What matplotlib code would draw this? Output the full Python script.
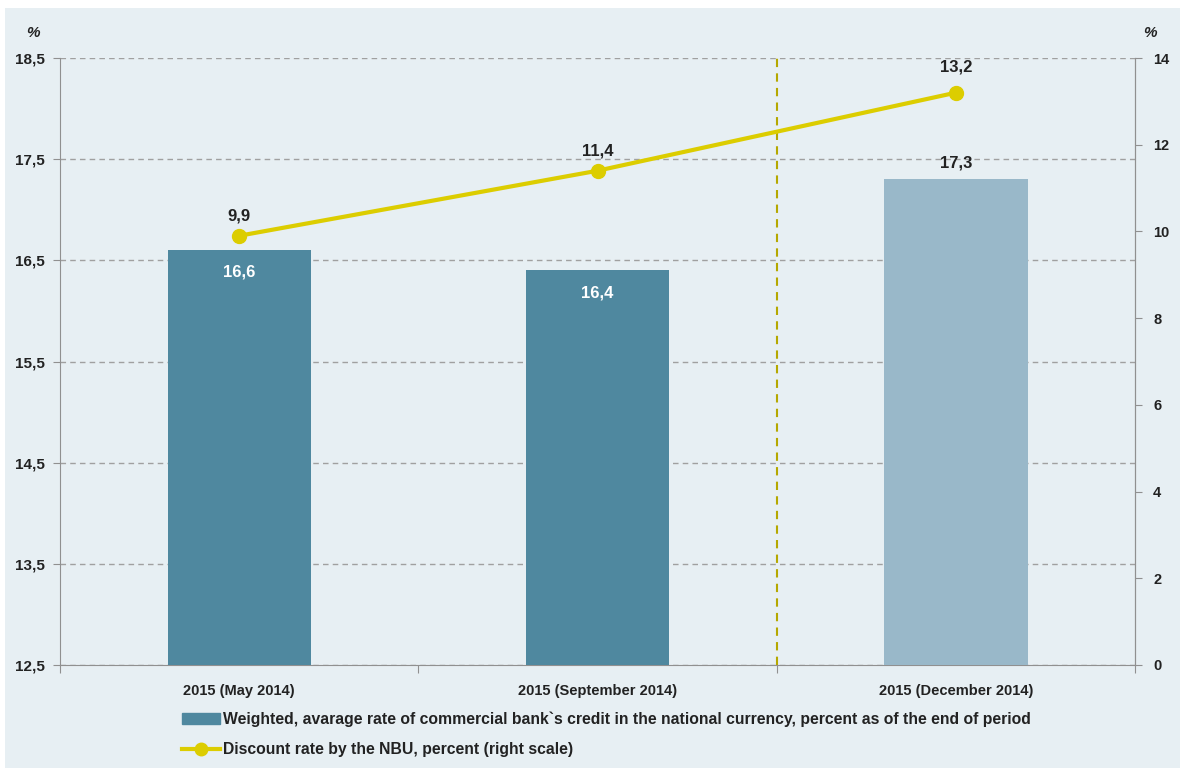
import matplotlib.pyplot as plt
from matplotlib.patches import Rectangle
from matplotlib.lines import Line2D

plt.rcParams['font.family'] = ['Liberation Sans Narrow', 'Liberation Sans', 'DejaVu Sans']
plt.rcParams['font.weight'] = 'bold'

categories = ['2015 (May 2014)', '2015 (September 2014)', '2015 (December 2014)']
credit_rate = [16.6, 16.4, 17.3]
discount_rate = [9.9, 11.4, 13.2]
left_ticks = [12.5, 13.5, 14.5, 15.5, 16.5, 17.5, 18.5]
right_ticks = [0, 2, 4, 6, 8, 10, 12, 14]

bg = '#e7eff3'
bar_dark = '#4f889f'
bar_light = '#99b8c9'
line_col = '#dccd00'
txt = '#222222'

W, H = 1180, 771
fig = plt.figure(figsize=(W / 100, H / 100), dpi=100, facecolor='white')
fig.patches.append(Rectangle((5 / W, 3 / H), 1 - 5 / W, 1 - 11 / H, transform=fig.transFigure,
                             facecolor=bg, edgecolor='none', zorder=-10))
ax = fig.add_axes([60 / W, 1 - 665 / H, 1075 / W, 607 / H])
ax.set_facecolor(bg)

x = range(len(categories))
colors = [bar_dark, bar_dark, bar_light]
ax.bar(x, [v - 12.5 for v in credit_rate], bottom=12.5, width=0.4, color=colors, zorder=3)
ax.set_xlim(-0.5, 2.5)
ax.set_ylim(12.5, 18.5)
ax.set_yticks(left_ticks)
ax.set_yticklabels([str(t).replace('.', ',') for t in left_ticks])
ax.set_xticks([-0.5, 0.5, 1.5, 2.5])
ax.set_xticklabels([])
ax.set_xticks(list(x), minor=True)
ax.set_xticklabels(categories, minor=True)
ax.tick_params(axis='x', which='minor', length=0, pad=14, labelsize=10.5, labelcolor=txt)
ax.tick_params(axis='x', which='major', length=6, color='#909090')
ax.tick_params(axis='y', length=5, color='#909090', labelsize=11, labelcolor=txt, pad=6)
ax.yaxis.grid(True, linestyle=(0, (4, 3)), color='#a0a0a0', linewidth=1, zorder=1)
ax.spines['top'].set_visible(False)
for s in ['left', 'bottom', 'right']:
    ax.spines[s].set_color('#909090')

# value labels on the bars
for i, v in enumerate(credit_rate):
    lbl = str(v).replace('.', ',')
    if i < 2:
        ax.text(i, v - 0.22, lbl, ha='center', va='center', color='white', fontsize=12, zorder=5)
    else:
        ax.text(i, v + 0.16, lbl, ha='center', va='center', color=txt, fontsize=12, zorder=5)

ax.axvline(1.5, color='#b5a800', linestyle=(0, (4, 3)), linewidth=1.5, zorder=4)

ax2 = ax.twinx()
ax2.set_ylim(0, 14)
ax2.set_yticks(right_ticks)
ax2.plot(list(x), discount_rate, color=line_col, linewidth=3, marker='o', markersize=10, zorder=6)
offsets = [0.45, 0.45, 0.6]
for i, v in enumerate(discount_rate):
    ax2.text(i, v + offsets[i], str(v).replace('.', ','), ha='center', va='center', color=txt, fontsize=12)
ax2.tick_params(axis='y', length=5, color='#909090', labelsize=10.5, labelcolor=txt, pad=8)
for s in ['top', 'left', 'bottom']:
    ax2.spines[s].set_visible(False)
ax2.spines['right'].set_color('#909090')

fig.text(33 / W, 1 - 33 / H, '%', ha='center', va='center', fontsize=11, color=txt, style='italic')
fig.text(1150 / W, 1 - 33 / H, '%', ha='center', va='center', fontsize=11, color=txt, style='italic')

handles = [Rectangle((0, 0), 1, 1, color=bar_dark),
           Line2D([], [], color=line_col, linewidth=3, marker='o', markersize=9)]
labels = ['Weighted, avarage rate of commercial bank`s credit in the national currency, percent as of the end of period',
          'Discount rate by the NBU, percent (right scale)']
fig.legend(handles, labels, loc='upper left', bbox_to_anchor=(168 / W, 1 - 697 / H), frameon=False,
           fontsize=11.3, handlelength=2.4, handletextpad=0.2, labelspacing=1.0, labelcolor=txt)

fig.savefig('out.png', dpi=100, facecolor='white')
